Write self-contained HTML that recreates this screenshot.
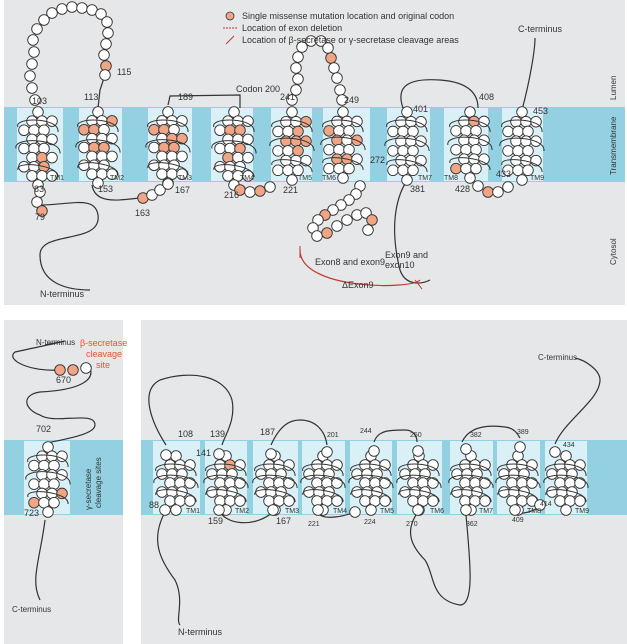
<!DOCTYPE html>
<html><head><meta charset="utf-8"><style>
body{margin:0;background:#fff;}
svg{display:block;font-family:"Liberation Sans",sans-serif;}
</style></head><body>
<svg id="s" width="627" height="644" viewBox="0 0 627 644" xmlns="http://www.w3.org/2000/svg">
<rect x="0" y="0" width="627" height="644" fill="#fff"/>
<rect x="4" y="0" width="621" height="305" fill="#e6e7e9"/>
<rect x="4" y="320" width="119" height="324" fill="#e6e7e9"/>
<rect x="141" y="320" width="486" height="324" fill="#e6e7e9"/>
<rect x="4" y="107" width="621" height="75" fill="#93d1e2"/>
<rect x="4" y="440" width="119" height="75" fill="#93d1e2"/>
<rect x="141" y="440" width="486" height="75" fill="#93d1e2"/>
<g fill="#d9f0f6">
<rect x="17" y="108" width="46" height="73"/><rect x="79" y="108" width="43" height="73"/>
<rect x="148" y="108" width="44" height="73"/><rect x="211" y="108" width="42" height="73"/>
<rect x="271" y="108" width="41" height="73"/><rect x="323" y="108" width="47" height="73"/>
<rect x="387" y="108" width="43" height="73"/><rect x="444" y="108" width="44" height="73"/>
<rect x="502" y="108" width="41" height="73"/>
<rect x="24" y="441" width="46" height="73"/>
<rect x="153" y="441" width="47" height="73"/><rect x="205" y="441" width="42" height="73"/>
<rect x="253" y="441" width="45" height="73"/><rect x="302" y="441" width="43" height="73"/>
<rect x="350" y="441" width="42" height="73"/><rect x="397" y="441" width="45" height="73"/>
<rect x="450" y="441" width="43" height="73"/><rect x="497" y="441" width="43" height="73"/>
<rect x="545" y="441" width="42" height="73"/>
</g>
<g fill="none" stroke="#333" stroke-width="1.2">
<path d="M40 205 C70 205 95 195 98 215 C102 245 40 230 40 255 C40 285 70 290 90 290"/>
<path d="M98 108 L100 90 L105 75"/>
<path d="M92 185 C95 205 120 200 140 198"/>
<path d="M168 105 L170 96 L240 95 L240 108"/>
<path d="M403 108 C395 85 410 78 440 80 C470 82 478 95 478 108"/>
<path d="M522 110 C530 80 535 50 535 38"/>
<path d="M406 182 C395 200 390 230 400 270 C405 285 420 285 430 280"/>
<path d="M166 445 C150 420 140 390 160 380 C190 370 225 375 232 400 C236 420 225 435 222 445"/>
<path d="M219 510 C225 525 255 528 273 512"/>
<path d="M271 445 C280 425 290 420 300 420 C315 420 325 430 327 445"/>
<path d="M318 512 C320 520 340 518 355 512"/>
<path d="M374 442 C378 430 390 430 405 430 C415 430 417 438 417 442"/>
<path d="M462 442 C470 425 490 425 505 427 C515 428 518 435 520 438"/>
<path d="M515 512 C520 515 535 512 540 505"/>
<path d="M555 444 C565 420 600 400 600 380 C600 370 585 360 575 358"/>
<path d="M165 512 C150 540 160 560 175 580 C185 600 175 620 180 625"/>
<path d="M418 512 C405 530 410 545 425 560 C435 575 430 600 460 605 C475 605 470 560 466 515"/>
<path d="M45 345 C70 340 80 338 15 352 C5 360 30 372 60 370 M90 368 C95 380 80 390 40 392 C20 395 25 410 40 415 C55 425 95 410 95 425 C95 435 60 440 47 443"/>
<path d="M45 520 C40 560 30 580 40 600"/>
</g>
<path d="M300 250 C300 290 410 290 420 280" fill="none" stroke="#c0392b" stroke-width="1.2"/>
<line x1="300" y1="246" x2="300" y2="258" stroke="#c0392b"/>
<line x1="415" y1="280" x2="422" y2="289" stroke="#c0392b"/>
<g id="c"></g>
<g font-size="9" fill="#333">
<text x="32" y="104">103</text><text x="84" y="100">113</text><text x="117" y="75">115</text>
<text x="178" y="100">189</text><text x="236" y="92">Codon 200</text><text x="280" y="100">241</text>
<text x="344" y="103">249</text><text x="370" y="163">272</text><text x="413" y="112">401</text>
<text x="479" y="100">408</text><text x="533" y="114">453</text><text x="496" y="177">433</text>
<text x="455" y="192">428</text><text x="410" y="192">381</text><text x="34" y="192">83</text>
<text x="35" y="220">79</text><text x="98" y="192">153</text><text x="135" y="216">163</text>
<text x="175" y="193">167</text><text x="224" y="198">216</text><text x="283" y="193">221</text>
<text x="315" y="265">Exon8 and exon9</text><text x="385" y="258">Exon9 and</text><text x="385" y="268">exon10</text>
<text x="342" y="288">ΔExon9</text>
<text x="40" y="297">N-terminus</text><text x="518" y="32">C-terminus</text>
<text x="178" y="437">108</text><text x="210" y="437">139</text><text x="196" y="456">141</text>
<text x="260" y="435">187</text><text x="327" y="437" font-size="7">201</text><text x="360" y="433" font-size="7">244</text>
<text x="410" y="437" font-size="7">250</text><text x="470" y="437" font-size="7">382</text><text x="517" y="434" font-size="7">389</text>
<text x="563" y="447" font-size="7">434</text><text x="149" y="508">88</text><text x="208" y="524">159</text>
<text x="276" y="524">167</text><text x="308" y="526" font-size="7">221</text><text x="364" y="524" font-size="7">224</text>
<text x="406" y="526" font-size="7">270</text><text x="466" y="526" font-size="7">362</text><text x="512" y="522" font-size="7">409</text>
<text x="540" y="506" font-size="7">414</text>
<text x="178" y="635">N-terminus</text><text x="538" y="360" font-size="8">C-terminus</text>
<text x="36" y="345" font-size="8">N-terminus</text><text x="56" y="383">670</text><text x="36" y="432">702</text>
<text x="24" y="516">723</text><text x="12" y="612" font-size="8">C-terminus</text>
<text x="242" y="19">Single missense mutation location and original codon</text>
<text x="242" y="31">Location of exon deletion</text>
<text x="242" y="43">Location of β-secretase or γ-secretase cleavage areas</text>
</g>
<g font-size="7" fill="#333">
<text x="50" y="180">TM1</text><text x="110" y="180">TM2</text><text x="178" y="180">TM3</text><text x="240" y="180">TM4</text>
<text x="298" y="180">TM5</text><text x="322" y="180">TM6</text><text x="418" y="180">TM7</text><text x="444" y="180">TM8</text><text x="530" y="180">TM9</text>
<text x="186" y="513">TM1</text><text x="235" y="513">TM2</text><text x="285" y="513">TM3</text><text x="333" y="513">TM4</text>
<text x="380" y="513">TM5</text><text x="430" y="513">TM6</text><text x="479" y="513">TM7</text><text x="527" y="513">TM8</text><text x="575" y="513">TM9</text>
</g>
<g font-size="9" fill="#e8542a"><text x="80" y="346">β-secretase</text><text x="86" y="357">cleavage</text><text x="96" y="368">site</text></g>
<g font-size="8" fill="#333">
<text transform="translate(616,100) rotate(-90)">Lumen</text>
<text transform="translate(616,175) rotate(-90)">Transmembrane</text>
<text transform="translate(616,265) rotate(-90)">Cytosol</text>
<text transform="translate(91,510) rotate(-90)">γ-secretase</text>
<text transform="translate(101,508) rotate(-90)">cleavage sites</text>
</g>
<circle cx="230" cy="16" r="4" fill="#f0a585" stroke="#333" stroke-width=".8"/>
<line x1="223" y1="28" x2="238" y2="28" stroke="#c0392b" stroke-dasharray="2,1"/>
<line x1="226" y1="44" x2="234" y2="36" stroke="#c0392b"/>
</svg>
<script>
var out=[];
function c(x,y,o){out.push('<circle cx="'+x+'" cy="'+y+'" r="5.3" fill="'+(o?'#f0a585':'#fff')+'" stroke="#333" stroke-width=".9"/>');}
function helix(cx,top,bot,orng){var rows=Math.round((bot-top)/8.2);var k=0;
 for(var r=0;r<rows;r++){var y=top+r*((bot-top)/(rows-1));var sh=(r%2)?4:-4;
  var cols=(r==0||r==rows-1)?[0]:[-10,0,10];
  for(var j=0;j<cols.length;j++){k++;c(cx+cols[j]+(cols.length>1?sh:0),y,orng&&orng.indexOf(k)>=0);}}
 out.push('<path d="M'+(cx-20)+' '+(top+15)+' C'+(cx-25)+' '+(top+5)+' '+(cx+22)+' '+(top+5)+' '+(cx+20)+' '+(top+20)+' M'+(cx-22)+' '+((top+bot)/2)+' C'+(cx-26)+' '+((top+bot)/2-12)+' '+(cx+24)+' '+((top+bot)/2-10)+' '+(cx+22)+' '+((top+bot)/2+5)+' M'+(cx-20)+' '+(bot-15)+' C'+(cx-24)+' '+(bot-25)+' '+(cx+22)+' '+(bot-20)+' '+(cx+20)+' '+(bot-8)+'" fill="none" stroke="#333" stroke-width="1"/>');}
function chain(pts,orng){for(var i=0;i<pts.length;i++)c(pts[i][0],pts[i][1],orng&&orng.indexOf(i)>=0);}
helix(38,112,185,[15,19]);helix(98,112,183,[4,5,6,12,13]);helix(168,112,183,[5,6,9,10,12,13]);
helix(234,112,185,[6,7,13,14]);helix(292,112,180,[4,7,8,9,10,13]);helix(343,112,178,[5,8,10,14,15]);
helix(407,112,180,[]);helix(470,112,178,[3,17]);helix(522,112,180,[]);
chain([[35,100],[32,88],[30,76],[32,64],[34,52],[33,40],[37,29],[44,20],[52,13],[62,9],[72,7],[82,8],[92,10],[101,14],[107,22],[108,33],[106,44],[104,55],[106,66],[105,75]],[18]);
chain([[40,192],[37,202],[42,211]],[2]);
chain([[143,198],[152,195],[160,190],[168,184]],[0]);
chain([[240,190],[250,192],[260,191],[270,187]],[0,2]);
chain([[292,100],[296,90],[298,79],[296,68],[298,57],[302,47],[311,41],[321,41],[328,48],[331,58],[334,68],[337,78],[340,90],[342,100]],[9]);
chain([[360,186],[356,194],[349,200],[341,205],[333,210],[325,215],[318,220],[313,228],[317,236],[327,233],[337,226],[347,220],[357,215],[366,213],[372,220],[368,230]],[5,9,14]);
chain([[478,186],[488,192],[498,192],[508,187]],[1]);
chain([[60,370],[73,370],[86,368]],[0,1]);
helix(48,447,512,[16,17,22,23]);
helix(176,456,510,[]);helix(226,456,510,[3]);helix(275,456,510,[]);helix(323,456,510,[]);helix(371,456,510,[]);
helix(419,456,510,[]);helix(471,456,510,[]);helix(518,456,510,[]);helix(566,456,510,[]);
chain([[166,455],[219,454],[271,454],[327,452],[374,451],[418,451],[466,449],[520,447],[555,452],[165,510],[219,510],[273,510],[318,510],[355,512],[418,510],[466,510],[515,510],[540,505]]);
document.getElementById('c').innerHTML=out.join('');
</script>
</body></html>
